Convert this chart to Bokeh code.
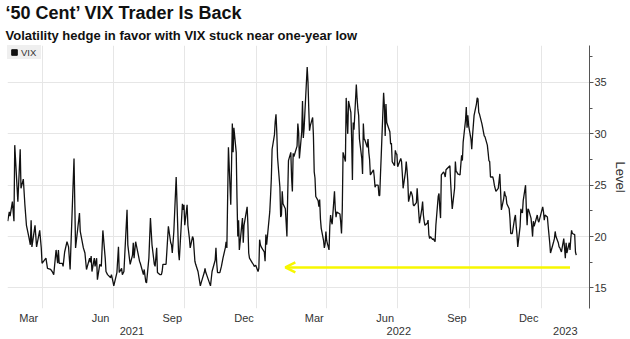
import pandas as pd
from bokeh.plotting import figure
from bokeh.models import (ColumnDataSource, DatetimeAxis, FixedTicker, DatetimeTickFormatter,
                          SingleIntervalTicker, Legend, LegendItem, Arrow, OpenHead, Title, Range1d)
from bokeh.embed import file_html
from bokeh.resources import INLINE

title_text = "\u201850 Cent\u2019 VIX Trader Is Back"
subtitle_text = "Volatility hedge in favor with VIX stuck near one-year low"
series_name = "VIX"
y_label = "Level"

vix_dates = [
    "2021-02-16", "2021-02-18", "2021-02-19", "2021-02-22", "2021-02-24", "2021-02-25", "2021-03-01", "2021-03-04",
    "2021-03-05", "2021-03-08", "2021-03-10", "2021-03-12", "2021-03-15", "2021-03-17", "2021-03-18", "2021-03-19",
    "2021-03-23", "2021-03-25", "2021-03-29", "2021-03-31", "2021-04-01", "2021-04-06", "2021-04-08", "2021-04-12",
    "2021-04-14", "2021-04-16", "2021-04-19", "2021-04-21", "2021-04-22", "2021-04-23", "2021-04-27", "2021-04-28",
    "2021-04-30", "2021-05-03", "2021-05-05", "2021-05-07", "2021-05-12", "2021-05-14", "2021-05-19", "2021-05-20",
    "2021-05-24", "2021-05-26", "2021-05-28", "2021-06-01", "2021-06-02", "2021-06-03", "2021-06-04", "2021-06-07",
    "2021-06-08", "2021-06-10", "2021-06-11", "2021-06-14", "2021-06-16", "2021-06-18", "2021-06-21", "2021-06-22",
    "2021-06-24", "2021-06-28", "2021-06-29", "2021-07-01", "2021-07-02", "2021-07-06", "2021-07-08", "2021-07-09",
    "2021-07-12", "2021-07-13", "2021-07-15", "2021-07-19", "2021-07-20", "2021-07-22", "2021-07-23", "2021-07-26",
    "2021-07-27", "2021-07-28", "2021-07-30", "2021-08-02", "2021-08-04", "2021-08-05", "2021-08-09", "2021-08-10",
    "2021-08-12", "2021-08-13", "2021-08-16", "2021-08-18", "2021-08-20", "2021-08-23", "2021-08-24", "2021-08-26",
    "2021-08-27", "2021-08-30", "2021-09-01", "2021-09-02", "2021-09-03", "2021-09-07", "2021-09-08", "2021-09-10",
    "2021-09-13", "2021-09-14", "2021-09-15", "2021-09-17", "2021-09-20", "2021-09-21", "2021-09-23", "2021-09-24",
    "2021-09-28", "2021-09-29", "2021-09-30", "2021-10-01", "2021-10-04", "2021-10-05", "2021-10-07", "2021-10-08",
    "2021-10-11", "2021-10-12", "2021-10-14", "2021-10-15", "2021-10-18", "2021-10-21", "2021-10-22", "2021-10-26",
    "2021-10-27", "2021-10-28", "2021-10-29", "2021-11-03", "2021-11-05", "2021-11-09", "2021-11-10", "2021-11-11",
    "2021-11-12", "2021-11-15", "2021-11-17", "2021-11-19", "2021-11-22", "2021-11-23", "2021-11-24", "2021-11-26",
    "2021-11-29", "2021-12-01", "2021-12-02", "2021-12-03", "2021-12-06", "2021-12-07", "2021-12-08", "2021-12-09",
    "2021-12-10", "2021-12-14", "2021-12-15", "2021-12-16", "2021-12-20", "2021-12-21", "2021-12-22", "2021-12-23",
    "2021-12-27", "2021-12-28", "2021-12-29", "2021-12-31",
    "2022-01-03", "2022-01-04", "2022-01-05", "2022-01-06", "2022-01-07", "2022-01-11", "2022-01-12", "2022-01-13",
    "2022-01-14", "2022-01-18", "2022-01-19", "2022-01-20", "2022-01-21", "2022-01-24", "2022-01-25", "2022-01-26",
    "2022-01-27", "2022-01-28", "2022-01-31", "2022-02-01", "2022-02-02", "2022-02-03", "2022-02-04", "2022-02-07",
    "2022-02-08", "2022-02-09", "2022-02-10", "2022-02-11", "2022-02-14", "2022-02-15", "2022-02-16", "2022-02-17",
    "2022-02-18", "2022-02-22", "2022-02-23", "2022-02-24", "2022-02-25", "2022-02-28", "2022-03-01", "2022-03-02",
    "2022-03-03", "2022-03-04", "2022-03-07", "2022-03-08", "2022-03-09", "2022-03-10", "2022-03-11", "2022-03-14",
    "2022-03-15", "2022-03-16", "2022-03-17", "2022-03-18", "2022-03-21", "2022-03-22", "2022-03-23", "2022-03-24",
    "2022-03-25", "2022-03-28", "2022-03-29", "2022-03-30", "2022-03-31", "2022-04-01", "2022-04-04", "2022-04-05",
    "2022-04-06", "2022-04-07", "2022-04-08", "2022-04-11", "2022-04-12", "2022-04-13", "2022-04-14", "2022-04-18",
    "2022-04-19", "2022-04-20", "2022-04-21", "2022-04-22", "2022-04-25", "2022-04-26", "2022-04-27", "2022-04-28",
    "2022-04-29", "2022-05-02", "2022-05-03", "2022-05-04", "2022-05-05", "2022-05-06", "2022-05-09", "2022-05-10",
    "2022-05-11", "2022-05-12", "2022-05-13", "2022-05-16", "2022-05-17", "2022-05-18", "2022-05-19", "2022-05-20",
    "2022-05-23", "2022-05-24", "2022-05-25", "2022-05-26", "2022-05-27", "2022-05-31", "2022-06-01", "2022-06-02",
    "2022-06-03", "2022-06-06", "2022-06-07", "2022-06-08", "2022-06-09", "2022-06-10", "2022-06-13", "2022-06-14",
    "2022-06-15", "2022-06-16", "2022-06-17", "2022-06-21", "2022-06-22", "2022-06-23", "2022-06-24", "2022-06-27",
    "2022-06-28", "2022-06-29", "2022-06-30", "2022-07-01", "2022-07-05", "2022-07-06", "2022-07-07", "2022-07-08",
    "2022-07-11", "2022-07-12", "2022-07-13", "2022-07-14", "2022-07-15", "2022-07-18", "2022-07-19", "2022-07-20",
    "2022-07-21", "2022-07-22", "2022-07-25", "2022-07-26", "2022-07-27", "2022-07-28", "2022-07-29", "2022-08-01",
    "2022-08-02", "2022-08-03", "2022-08-04", "2022-08-05", "2022-08-08", "2022-08-09", "2022-08-10", "2022-08-11",
    "2022-08-12", "2022-08-15", "2022-08-16", "2022-08-17", "2022-08-18", "2022-08-19", "2022-08-22", "2022-08-23",
    "2022-08-24", "2022-08-25", "2022-08-26", "2022-08-29", "2022-08-30", "2022-08-31", "2022-09-01", "2022-09-06",
    "2022-09-07", "2022-09-08", "2022-09-09", "2022-09-12", "2022-09-13", "2022-09-14", "2022-09-15", "2022-09-16",
    "2022-09-19", "2022-09-20", "2022-09-21", "2022-09-22", "2022-09-23", "2022-09-26", "2022-09-27", "2022-09-28",
    "2022-09-29", "2022-09-30", "2022-10-03", "2022-10-04", "2022-10-05", "2022-10-06", "2022-10-07", "2022-10-10",
    "2022-10-11", "2022-10-12", "2022-10-13", "2022-10-14", "2022-10-17", "2022-10-18", "2022-10-19", "2022-10-20",
    "2022-10-21", "2022-10-24", "2022-10-25", "2022-10-26", "2022-10-27", "2022-10-28", "2022-10-31", "2022-11-01",
    "2022-11-02", "2022-11-04", "2022-11-07", "2022-11-08", "2022-11-09", "2022-11-10", "2022-11-11", "2022-11-14",
    "2022-11-15", "2022-11-16", "2022-11-17", "2022-11-18", "2022-11-21", "2022-11-22", "2022-11-23", "2022-11-25",
    "2022-11-28", "2022-11-29", "2022-11-30", "2022-12-01", "2022-12-02", "2022-12-05", "2022-12-06", "2022-12-07",
    "2022-12-08", "2022-12-09", "2022-12-12", "2022-12-13", "2022-12-14", "2022-12-15", "2022-12-16", "2022-12-19",
    "2022-12-20", "2022-12-21", "2022-12-22", "2022-12-23", "2022-12-27", "2022-12-28", "2022-12-29", "2022-12-30",
    "2023-01-03", "2023-01-04", "2023-01-05", "2023-01-06", "2023-01-09", "2023-01-10", "2023-01-11", "2023-01-12",
    "2023-01-13", "2023-01-17", "2023-01-18", "2023-01-19", "2023-01-20", "2023-01-23", "2023-01-24", "2023-01-25",
    "2023-01-26", "2023-01-27", "2023-01-30", "2023-01-31", "2023-02-01", "2023-02-02", "2023-02-03", "2023-02-06",
    "2023-02-07", "2023-02-08", "2023-02-09", "2023-02-10", "2023-02-13", "2023-02-14", "2023-02-15",
]

vix_values = [
    21.5, 22.4, 22.0, 23.4, 21.5, 28.9, 23.4, 28.5,
    24.7, 25.6, 23.1, 21.1, 20.0, 19.2, 21.6, 19.0,
    21.1, 19.0, 20.6, 18.9, 17.4, 17.9, 16.9, 16.8,
    16.6, 16.3, 18.7, 17.4, 18.7, 17.4, 17.4, 17.1,
    18.5, 19.5, 19.0, 16.8, 27.6, 18.9, 22.3, 20.5,
    18.9, 18.4, 16.8, 17.9, 17.5, 18.1, 16.6, 17.9,
    17.1, 17.9, 15.8, 17.3, 17.1, 20.6, 17.9, 16.6,
    16.3, 16.0, 16.3, 15.6, 15.2, 16.5, 19.0, 16.5,
    16.9, 16.3, 16.6, 22.6, 19.2, 17.9, 17.3, 18.2,
    19.4, 17.9, 19.5, 18.4, 17.6, 17.4, 16.3, 16.8,
    15.6, 15.5, 17.9, 21.8, 19.2, 17.3, 17.1, 18.9,
    16.5, 16.3, 16.3, 16.6, 17.3, 17.3, 18.5, 21.0,
    19.4, 19.2, 18.4, 20.5, 25.8, 23.4, 18.5, 17.7,
    23.2, 22.6, 23.1, 21.1, 23.1, 21.1, 19.8, 18.9,
    20.0, 19.8, 17.6, 17.3, 16.6, 15.2, 15.5, 16.5,
    16.9, 16.5, 16.3, 15.2, 16.6, 17.7, 18.9, 17.4,
    16.5, 16.5, 17.1, 17.9, 18.9, 19.5, 18.9, 28.7,
    23.1, 31.0, 28.2, 30.6, 28.2, 23.7, 20.0, 21.6,
    18.7, 21.8, 19.4, 21.1, 22.9, 21.1, 18.4, 17.9,
    17.4, 17.3, 17.1, 17.2,
    16.6, 16.9, 19.7, 19.2, 19.0, 18.5, 17.6, 20.2,
    19.2, 22.4, 23.9, 25.6, 28.5, 29.9, 31.2, 31.9,
    30.2, 27.7, 24.8, 21.9, 22.1, 24.4, 23.2, 22.7,
    21.4, 20.0, 24.0, 27.4, 28.2, 25.7, 24.4, 28.1,
    27.8, 28.8, 31.0, 30.2, 27.6, 30.2, 33.2, 29.6,
    30.5, 32.0, 36.5, 35.1, 32.5, 30.3, 30.8, 31.6,
    29.8, 26.3, 25.7, 23.9, 23.5, 22.9, 23.6, 21.7,
    20.8, 19.6, 18.9, 19.3, 20.5, 19.6, 18.7, 21.0,
    22.1, 21.5, 21.2, 24.4, 22.7, 21.9, 22.4, 22.2,
    21.4, 20.3, 22.7, 28.2, 27.3, 33.5, 31.6, 30.0,
    33.2, 32.1, 29.5, 25.5, 31.1, 30.4, 34.8, 33.4,
    32.4, 31.8, 29.5, 27.6, 26.1, 31.0, 29.5, 29.4,
    28.7, 29.5, 28.2, 27.5, 26.0, 26.5, 25.8, 24.8,
    25.0, 25.0, 24.0, 24.0, 26.1, 28.0, 34.0, 32.7,
    29.8, 32.9, 31.1, 30.2, 29.0, 29.1, 27.3, 26.9,
    28.4, 28.1, 28.0, 26.8, 27.6, 27.3, 26.1, 24.7,
    26.3, 27.3, 26.5, 25.4, 23.4, 24.4, 24.2, 23.9,
    23.1, 23.0, 23.3, 24.7, 23.5, 22.4, 21.3, 22.7,
    23.4, 22.1, 21.5, 21.1, 21.3, 21.6, 20.2, 19.8,
    20.0, 19.7, 19.8, 19.6, 19.5, 21.1, 23.9, 24.2,
    22.8, 21.8, 26.0, 26.3, 26.1, 25.8, 26.5, 26.9,
    25.2, 23.8, 22.7, 24.7, 27.3, 26.3, 26.3, 26.1,
    26.0, 27.0, 27.9, 27.4, 29.2, 31.3, 32.6, 30.6,
    31.8, 30.8, 29.5, 28.5, 29.8, 30.8, 31.8, 32.9,
    33.5, 33.4, 32.1, 31.9, 31.0, 30.6, 30.2, 29.8,
    29.7, 28.9, 28.2, 27.4, 27.3, 25.8, 25.8, 25.5,
    25.0, 24.4, 24.7, 25.4, 26.1, 24.4, 22.6, 23.7,
    24.4, 24.0, 23.9, 23.2, 22.7, 21.8, 20.3, 20.3,
    21.8, 22.1, 21.0, 20.2, 19.0, 21.0, 22.7, 22.4,
    22.3, 23.5, 25.0, 22.7, 21.1, 22.7, 22.6, 21.8,
    21.0, 20.0, 21.5, 21.0, 22.1, 21.6, 21.4, 21.7,
    22.9, 22.4, 21.6, 22.1, 21.9, 21.0, 20.2, 19.4,
    18.4, 19.5, 19.8, 20.5, 20.0, 19.4, 19.0, 18.9,
    18.7, 18.5, 19.8, 18.9, 17.9, 19.4, 18.4, 19.4,
    18.7, 19.8, 20.6, 20.3, 20.2, 18.5, 18.2,
]

# x-axis: month labels (mid-month), quarter gridlines, visible date window
month_label_dates = ["2021-03-15", "2021-06-15", "2021-09-15", "2021-12-16",
                     "2022-03-16", "2022-06-15", "2022-09-15", "2022-12-16"]
quarter_grid_dates = ["2021-04-01", "2021-07-01", "2021-10-01", "2022-01-01",
                      "2022-04-01", "2022-07-01", "2022-10-01", "2023-01-01"]
year_labels = [2021, 2022, 2023]
x_window = ["2021-02-15 17:00", "2023-03-04 00:00"]
y_window = [13.0, 38.6]

# yellow "one-year low" arrow
arrow_from_date = "2023-02-07"
arrow_to_date = "2022-02-07"
arrow_level = 17.0


def ms(s):
    return pd.Timestamp(s).value / 1e6


FONT = "Liberation Sans"
TXT = "#333333"
GRID = "#e6e6e6"
YELLOW = "#f7f700"

src = ColumnDataSource(data=dict(date=pd.to_datetime(vix_dates), vix=vix_values))

x_start, x_end = pd.Timestamp(x_window[0]), pd.Timestamp(x_window[1])
year_mids = []
for yr in year_labels:
    lo = max(pd.Timestamp(f"{yr}-01-01"), x_start)
    hi = min(pd.Timestamp(f"{yr + 1}-01-01"), x_end)
    year_mids.append((lo + (hi - lo) / 2).value / 1e6)

p = figure(width=630, height=339, x_axis_type="datetime", y_axis_location="right",
           x_range=Range1d(ms(x_window[0]), ms(x_window[1])),
           y_range=Range1d(y_window[0], y_window[1]),
           output_backend="svg", toolbar_location=None,
           min_border_left=7, min_border_right=38, min_border_top=45, min_border_bottom=31)
p.outline_line_color = None
p.background_fill_color = "white"
p.border_fill_color = "white"

line = p.line("date", "vix", source=src, line_color="#111111", line_width=1.3)
sq = p.scatter("date", "vix", source=src, marker="square", size=6, color="#111111", visible=False)

legend = Legend(items=[LegendItem(label=series_name, renderers=[sq])], location="top_left",
                background_fill_color="#efefef", background_fill_alpha=1.0, border_line_color=None,
                padding=5, margin=0, spacing=0, glyph_width=14, glyph_height=14, label_height=13,
                label_standoff=-5, label_text_font=FONT, label_text_font_size="9.5px",
                label_text_color=TXT, label_text_baseline="middle")
p.add_layout(legend)

# month axis
fmt_month = DatetimeTickFormatter(microseconds="%b", milliseconds="%b", seconds="%b", minsec="%b",
                                  minutes="%b", hourmin="%b", hours="%b", days="%b", months="%b", years="%b")
xa = p.xaxis[0]
xa.ticker = FixedTicker(ticks=[ms(d) for d in month_label_dates])
xa.formatter = fmt_month
xa.axis_line_color = None
xa.major_tick_line_color = None
xa.minor_tick_line_color = None
xa.major_tick_out = 0
xa.major_tick_in = 0
xa.minor_tick_out = 0
xa.minor_tick_in = 0
xa.major_label_standoff = 3
xa.major_label_text_font = FONT
xa.major_label_text_font_size = "11px"
xa.major_label_text_color = TXT

# year axis
fmt_year = DatetimeTickFormatter(microseconds="%Y", milliseconds="%Y", seconds="%Y", minsec="%Y",
                                 minutes="%Y", hourmin="%Y", hours="%Y", days="%Y", months="%Y", years="%Y")
ya2 = DatetimeAxis(ticker=FixedTicker(ticks=year_mids), formatter=fmt_year,
                   axis_line_color=None, major_tick_line_color=None, minor_tick_line_color=None,
                   major_tick_out=0, major_tick_in=0, minor_tick_out=0, minor_tick_in=0,
                   major_label_standoff=0, major_label_text_font=FONT, major_label_text_font_size="11px",
                   major_label_text_color=TXT)
p.add_layout(ya2, "below")

p.xgrid.ticker = FixedTicker(ticks=[ms(d) for d in quarter_grid_dates])
p.xgrid.grid_line_color = GRID
p.ygrid.grid_line_color = GRID

# right y axis
yax = p.yaxis[0]
yax.ticker = SingleIntervalTicker(interval=5, num_minor_ticks=2)
yax.axis_label = y_label
yax.axis_label_text_font = FONT
yax.axis_label_text_font_size = "13px"
yax.axis_label_text_font_style = "normal"
yax.axis_label_text_color = TXT
yax.axis_label_standoff = 3
yax.axis_line_color = "#555555"
yax.major_tick_line_color = "#555555"
yax.minor_tick_line_color = "#555555"
yax.major_tick_in = 0
yax.major_tick_out = 4
yax.minor_tick_in = 0
yax.minor_tick_out = 3
yax.major_label_standoff = 1
yax.major_label_text_font = FONT
yax.major_label_text_font_size = "11px"
yax.major_label_text_color = TXT

p.add_layout(Arrow(end=OpenHead(size=10, line_color=YELLOW, line_width=2.5),
                   x_start=ms(arrow_from_date), y_start=arrow_level,
                   x_end=ms(arrow_to_date), y_end=arrow_level,
                   line_color=YELLOW, line_width=2.5))

p.add_layout(Title(text=subtitle_text, text_font=FONT, text_font_style="bold", text_font_size="13px",
                   text_color="#111111", align="left", offset=-2, standoff=6), "above")
p.add_layout(Title(text=title_text, text_font=FONT, text_font_style="bold", text_font_size="18px",
                   text_color="#111111", align="left", offset=-2, standoff=0), "above")

open("out.html", "w").write(file_html(p, INLINE))
